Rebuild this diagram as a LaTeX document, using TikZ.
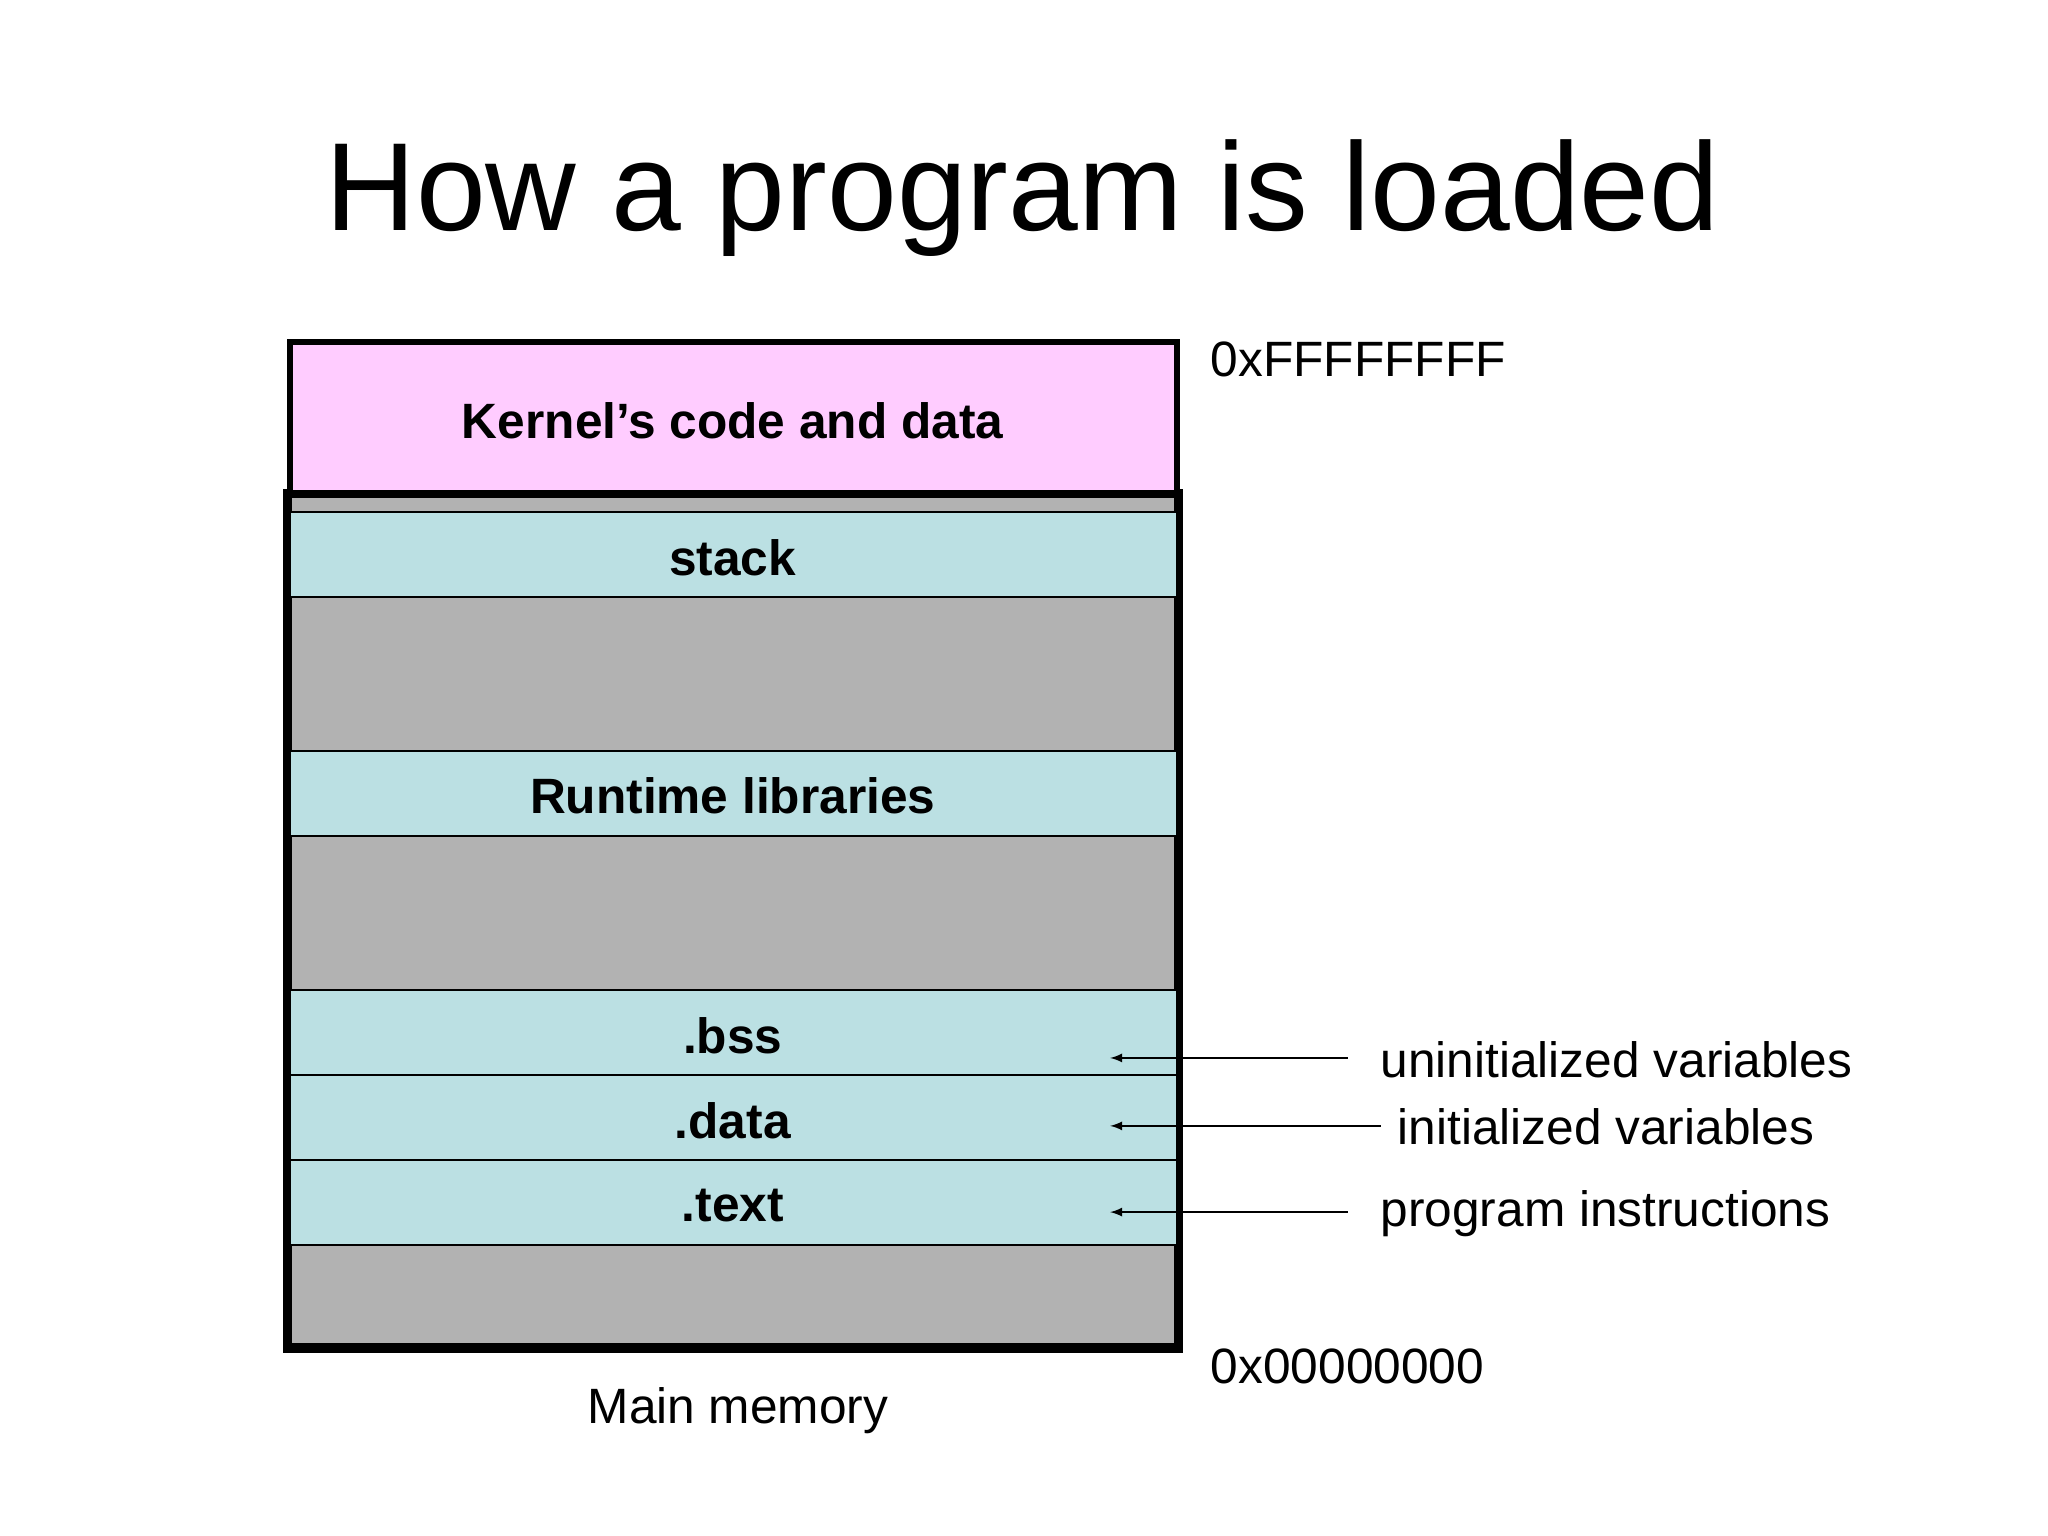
\documentclass[tikz,border=0pt]{standalone}
\usepackage{fontspec}
\setmainfont{Liberation Sans}
\begin{document}
\begin{tikzpicture}[x=0.5pt,y=-0.5pt,
  seg/.style={draw=black,line width=0.6pt,fill=cyanseg},
  lbl/.style={font=\fontsize{19}{22}\selectfont\bfseries},
  side/.style={font=\fontsize{19}{22}\selectfont,anchor=west},
  arr/.style={-latex,line width=0.6pt}]
\definecolor{cyanseg}{HTML}{BBE0E3}
\definecolor{pinkk}{HTML}{FFCCFF}
\definecolor{grayy}{HTML}{B2B2B2}
\useasboundingbox[fill=white] (0,0) rectangle (1568,1176);
\node[font=\fontsize{48}{56}\selectfont] (title) at (783,152) {How a program is loaded};
\draw[fill=grayy,line width=3.5pt] (220,378) rectangle (902,1032);
\draw[fill=pinkk,line width=2.5pt] (222,262) rectangle (901,378);
\node[lbl] (kern) at (561,322) {Kernel’s code and data};
\draw[seg] (222,392) rectangle (901,457); \node[lbl] (stack) at (561,427) {stack};
\draw[seg] (222,575) rectangle (901,640); \node[lbl] (rt) at (561,609) {Runtime libraries};
\draw[seg] (222,758) rectangle (901,823); \node[lbl] (bss) at (561,793) {.bss};
\draw[seg] (222,823) rectangle (901,888); \node[lbl] (data) at (561,858) {.data};
\draw[seg] (222,888) rectangle (901,953); \node[lbl] (text) at (561,923) {.text};
\node[side] (top) at (920,275) {0xFFFFFFFF};
\node[side] (bot) at (920,1046) {0x00000000};
\node[font=\fontsize{19}{22}\selectfont] (mm) at (565,1080) {Main memory};
\node[side] (u) at (1050,811) {uninitialized variables};
\node[side] (i) at (1063,863) {initialized variables};
\node[side] (p) at (1050,929) {program instructions};
\coordinate (a1) at (850,810); \coordinate (a2) at (850,862); \coordinate (a3) at (850,928);
\draw[arr] (u.west |- a1) ++(-18,0) -- (a1);
\draw[arr] (i.west |- a2) ++(-6,0) -- (a2);
\draw[arr] (p.west |- a3) ++(-18,0) -- (a3);
\end{tikzpicture}
\end{document}
